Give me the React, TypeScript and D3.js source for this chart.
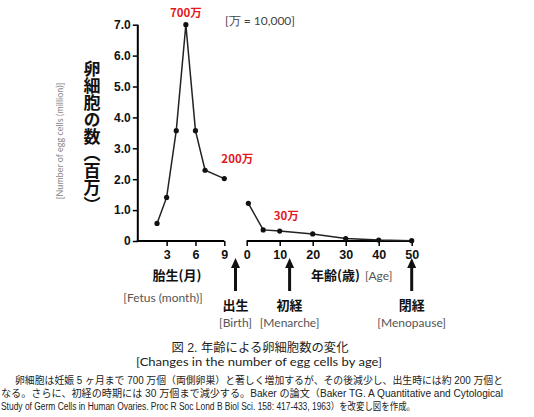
import React, { useEffect, useRef } from 'react';
import * as d3 from 'd3';

// fetal period (months) and number of egg cells (million)
const fetusMonths = [2, 3, 4, 5, 6, 7, 9];
const fetusCells = [0.57, 1.41, 3.57, 7.0, 3.57, 2.29, 2.02];

// after birth (years) and number of egg cells (million)
const ageYears = [0.5, 5, 10, 20, 30, 40, 50];
const ageCells = [1.22, 0.36, 0.32, 0.23, 0.08, 0.03, 0.01];

const yTicks = [0, 1, 2, 3, 4, 5, 6, 7];
const fetusTicks = [3, 6, 9];
const ageTicks = [0, 10, 20, 30, 40, 50];

const milestoneNames = ['出生', '初経', '閉経'];
const milestoneEnglish = ['[Birth]', '[Menarche]', '[Menopause]'];
const milestoneAges = [null, 13, 50];

const peakNotes = ['700万', '200万', '30万'];

const captionLines = [
    '卵細胞は妊娠 5 ヶ月まで 700 万個（両側卵巣）と著しく増加するが、その後減少し、出生時には約 200 万個と',
    'なる。さらに、初経の時期には 30 万個まで減少する。Baker の論文（Baker TG. A Quantitative and Cytological',
    'Study of Germ Cells in Human Ovaries. Proc R Soc Lond B Biol Sci. 158: 417-433, 1963）を改変し図を作成。',
];

const JP = '"Noto Sans CJK JP", sans-serif';
const ARIAL = '"Liberation Sans", Arial, sans-serif';
const ARIAL_JP = '"Liberation Sans", "Noto Sans CJK JP", sans-serif';
const LATIN = 'Lato, "Open Sans", sans-serif';
const RED = '#e3191f';

const App: React.FC = () => {
    const ref = useRef<SVGSVGElement | null>(null);

    useEffect(() => {
        if (!ref.current) return;
        const svg = d3.select(ref.current);
        svg.selectAll('*').remove();

        const y = d3.scaleLinear().domain([0, 7]).range([241, 24.7]);
        const xFetus = d3.scaleLinear().domain([0, 9]).range([137.8, 224.3]);
        const xAge = d3.scaleLinear().domain([0, 50]).range([246.7, 411.7]);

        // y axis
        const yAxis = svg.append('g')
            .attr('transform', `translate(${xFetus(0)},0)`)
            .call(d3.axisLeft(y).tickValues(yTicks).tickSize(5).tickPadding(2)
                .tickFormat(d => (+d === 0 ? '0' : d3.format('.1f')(+d))));
        yAxis.select('.domain').attr('stroke-width', 2).attr('d', `M0,${y(0) + 1}V${y(7)}`);
        yAxis.selectAll('.tick line').attr('stroke-width', 1.5);
        yAxis.selectAll('.tick text')
            .attr('font-family', ARIAL).attr('font-weight', 'bold').attr('font-size', 12).attr('fill', '#111');

        // fetus x axis
        const fAxis = svg.append('g')
            .attr('transform', `translate(0,${y(0)})`)
            .call(d3.axisBottom(xFetus).tickValues(fetusTicks).tickSize(5).tickPadding(4));
        fAxis.select('.domain').attr('stroke-width', 2).attr('d', `M${xFetus(0) - 1},0H${xFetus(9)}`);
        fAxis.selectAll('.tick line').attr('stroke-width', 1.5);
        fAxis.selectAll('.tick text')
            .attr('font-family', ARIAL).attr('font-weight', 'bold').attr('font-size', 12.5).attr('fill', '#111');

        // age x axis
        const aAxis = svg.append('g')
            .attr('transform', `translate(0,${y(0)})`)
            .call(d3.axisBottom(xAge).tickValues(ageTicks).tickSize(5).tickPadding(4));
        aAxis.select('.domain').attr('stroke-width', 2).attr('d', `M${xAge(0)},0H${xAge(50)}`);
        aAxis.selectAll('.tick line').attr('stroke-width', 1.5);
        aAxis.selectAll('.tick text')
            .attr('font-family', ARIAL).attr('font-weight', 'bold').attr('font-size', 12.5).attr('fill', '#111');

        // lines and points
        const fetusData = fetusMonths.map((m, i) => [xFetus(m), y(fetusCells[i])] as [number, number]);
        const ageData = ageYears.map((a, i) => [xAge(a), y(ageCells[i])] as [number, number]);
        [fetusData, ageData].forEach(pts => {
            svg.append('path')
                .attr('d', d3.line()(pts))
                .attr('fill', 'none')
                .attr('stroke', '#222')
                .attr('stroke-width', 1.5);
            svg.selectAll(null)
                .data(pts)
                .enter()
                .append('circle')
                .attr('cx', d => d[0])
                .attr('cy', d => d[1])
                .attr('r', 2.6)
                .attr('fill', '#111');
        });

        // red notes
        const notePos: [number, number][] = [
            [xFetus(5), 17],
            [xFetus(9) + 13, 163],
            [xAge(12), 220],
        ];
        peakNotes.forEach((t, i) => {
            svg.append('text')
                .attr('x', notePos[i][0]).attr('y', notePos[i][1])
                .attr('text-anchor', 'middle')
                .attr('font-family', JP).attr('font-weight', 'bold').attr('font-size', 11.5)
                .attr('fill', RED)
                .text(t);
        });

        svg.append('text')
            .attr('x', 225).attr('y', 25)
            .attr('font-family', LATIN).attr('font-size', 12).attr('fill', '#444')
            .text('[万 = 10,000]');

        // y axis titles
        svg.append('text')
            .attr('x', 92).attr('y', 60)
            .style('writing-mode', 'vertical-rl')
            .attr('font-family', JP).attr('font-weight', 'bold').attr('font-size', 17).attr('fill', '#111')
            .text('卵細胞の数（百万）');
        svg.append('text')
            .attr('transform', 'translate(63,141) rotate(-90)')
            .attr('text-anchor', 'middle')
            .attr('font-family', LATIN).attr('font-size', 9).attr('fill', '#888')
            .text('[Number of egg cells (million)]');

        // x axis titles
        svg.append('text')
            .attr('x', 177).attr('y', 280).attr('text-anchor', 'middle')
            .attr('font-family', JP).attr('font-weight', 'bold').attr('font-size', 13).attr('fill', '#111')
            .text('胎生(月)');
        svg.append('text')
            .attr('x', 163).attr('y', 302).attr('text-anchor', 'middle')
            .attr('font-family', LATIN).attr('font-size', 12).attr('fill', '#555')
            .text('[Fetus (month)]');
        svg.append('text')
            .attr('x', 311).attr('y', 280)
            .attr('font-family', JP).attr('font-weight', 'bold').attr('font-size', 13).attr('fill', '#111')
            .text('年齢(歳)');
        svg.append('text')
            .attr('x', 365).attr('y', 280)
            .attr('font-family', LATIN).attr('font-size', 12).attr('fill', '#555')
            .text('[Age]');

        // milestone arrows
        milestoneNames.forEach((name, i) => {
            const age = milestoneAges[i];
            const cx = age === null ? (xFetus(9) + xAge(0)) / 2 : xAge(age);
            svg.append('line')
                .attr('x1', cx).attr('x2', cx).attr('y1', 291).attr('y2', 266)
                .attr('stroke', '#111').attr('stroke-width', 3);
            svg.append('path')
                .attr('d', `M${cx},258L${cx - 4.5},268L${cx + 4.5},268Z`)
                .attr('fill', '#111');
            svg.append('text')
                .attr('x', cx).attr('y', 310).attr('text-anchor', 'middle')
                .attr('font-family', JP).attr('font-weight', 'bold').attr('font-size', 13).attr('fill', '#111')
                .text(name);
            svg.append('text')
                .attr('x', cx).attr('y', 327).attr('text-anchor', 'middle')
                .attr('font-family', LATIN).attr('font-size', 12).attr('fill', '#555')
                .text(milestoneEnglish[i]);
        });

        // caption title
        svg.append('text')
            .attr('x', 260).attr('y', 351.5).attr('text-anchor', 'middle')
            .attr('font-family', ARIAL_JP).attr('font-size', 12).attr('fill', '#222')
            .attr('textLength', 177).attr('lengthAdjust', 'spacingAndGlyphs')
            .text('図 2. 年齢による卵細胞数の変化');
        svg.append('text')
            .attr('x', 259).attr('y', 366).attr('text-anchor', 'middle')
            .attr('font-family', LATIN).attr('font-size', 12).attr('fill', '#222')
            .attr('textLength', 246).attr('lengthAdjust', 'spacingAndGlyphs')
            .text('[Changes in the number of egg cells by age]');

        // caption paragraph
        const lineX = [15, 1, 1];
        const lineW = [488, 502, 414];
        const lineY = [384, 397, 410];
        captionLines.forEach((t, i) => {
            svg.append('text')
                .attr('x', lineX[i]).attr('y', lineY[i])
                .attr('font-family', ARIAL_JP).attr('font-size', 10).attr('fill', '#222')
                .attr('textLength', lineW[i]).attr('lengthAdjust', 'spacingAndGlyphs')
                .text(t);
        });
    }, []);

    return (
        <div style={{ position: 'absolute', left: 0, top: 0 }}>
            <svg ref={ref} width={534} height={417} style={{ display: 'block', background: '#fff' }} />
        </div>
    );
};

export default App;
